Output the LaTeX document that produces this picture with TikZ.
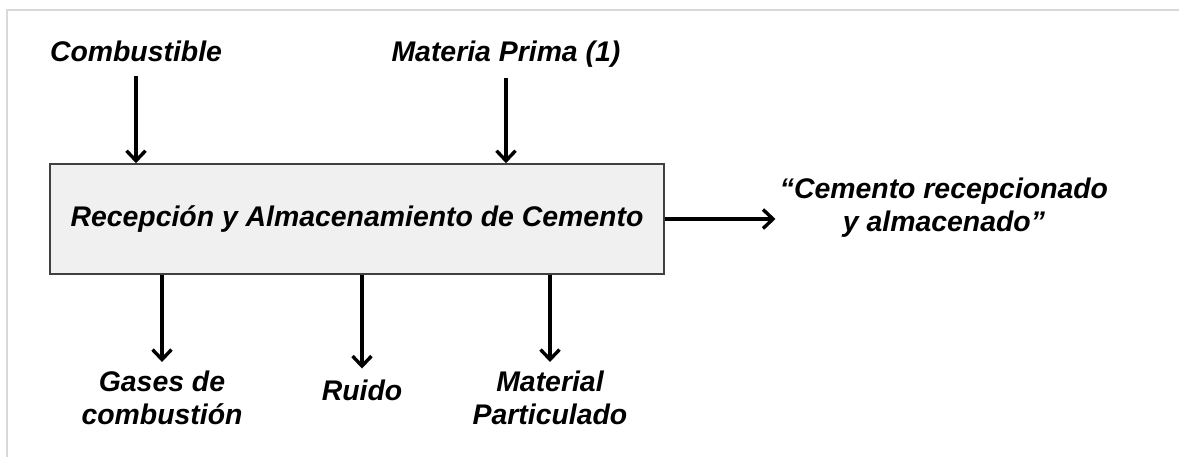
\documentclass[tikz,border=0pt]{standalone}
\usepackage{fontspec}
\setmainfont{Liberation Sans}
\usepackage{tikz}
\usetikzlibrary{positioning}
\usetikzlibrary{arrows.meta}
\usepackage{xcolor}

\definecolor{boxfill}{HTML}{F0F0F0}
\definecolor{boxline}{HTML}{404040}
\definecolor{framegray}{HTML}{D9D9D9}

\tikzset{
	lbl/.style={font=\fontsize{14.2}{16.5}\selectfont\bfseries\itshape, align=center},
	flow/.style={black, line width=1.7pt, -{Straight Barb[length=5pt,width=9.5pt,line width=1.7pt]}},
	procbox/.style={draw=boxline, fill=boxfill, line width=0.8pt, minimum width=307pt, minimum height=55pt}
}

\begin{document}
\begin{tikzpicture}[x=0.5pt, y=-0.5pt]
	\useasboundingbox (0, 0) rectangle (1179, 457);
	\draw[framegray, line width=0.6pt] (7, 457)--(7, 10)--(1179, 10);
	\node[procbox, lbl] (proc) at (357, 219) {Recepción y Almacenamiento de Cemento};
	\node[lbl, anchor=base] (comb) at (136, 61) {Combustible};
	\node[lbl, anchor=base] (mat) at (506, 61) {Materia Prima (1)};
	\node[lbl, inner sep=2pt] (prod) at (944, 208) {“Cemento recepcionado\\y almacenado”};
	\node[lbl] (gas) at (162, 398) {Gases de\\combustión};
	\node[lbl] (ruido) at (362, 390) {Ruido};
	\node[lbl] (part) at (550, 398) {Material\\Particulado};
	\draw[flow] ([yshift=-4pt]comb.south)--(comb.south |- proc.north);
	\draw[flow] ([yshift=-2pt]mat.south)--(mat.south |- proc.north);
	\draw[flow] (proc.east)--(prod.west |- proc.east);
	\draw[flow] (proc.south -| gas.north)--([yshift=1pt]gas.north);
	\draw[flow] (proc.south -| ruido.north)--([yshift=2pt]ruido.north);
	\draw[flow] (proc.south -| part.north)--([yshift=1pt]part.north);
\end{tikzpicture}
\end{document}
